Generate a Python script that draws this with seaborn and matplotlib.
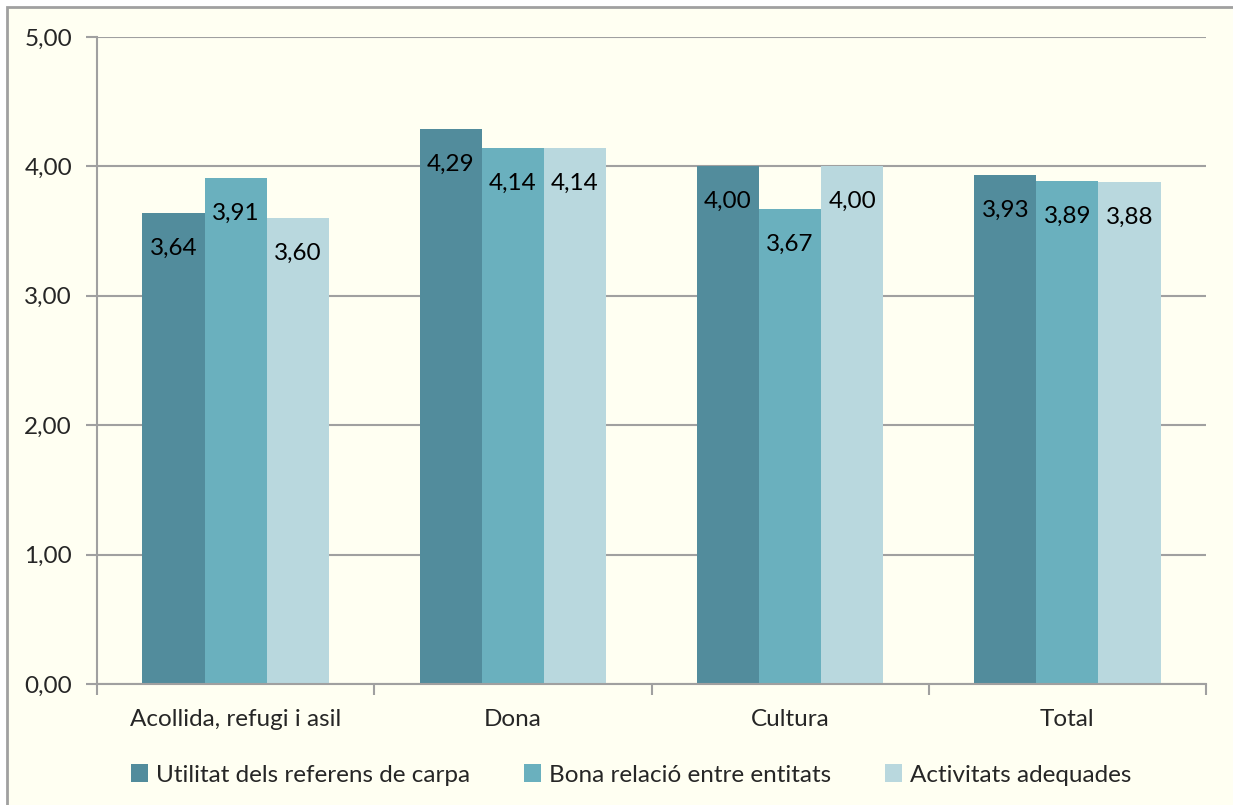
import numpy as np, pandas as pd
from matplotlib import pyplot as plt
from matplotlib.patches import Rectangle
from matplotlib.ticker import FixedLocator
import seaborn as sns

# Data
categories = ["Acollida, refugi i asil", "Dona", "Cultura", "Total"]
series = [
    "Utilitat dels referens de carpa",
    "Bona relació entre entitats",
    "Activitats adequades",
]
utilitat = [3.64, 4.29, 4.00, 3.93]
bona_relacio = [3.91, 4.14, 3.67, 3.89]
activitats = [3.60, 4.14, 4.00, 3.88]
colors = ["#528c9c", "#6ab0be", "#b9d8de"]

df = pd.DataFrame(
    {
        "categoria": categories * 3,
        "serie": np.repeat(series, len(categories)),
        "valor": utilitat + bona_relacio + activitats,
    }
)

sns.set_style("white")
plt.rcParams["font.family"] = ["Lato", "DejaVu Sans"]

cream = "#fffff2"
grey = "#a0a0a0"
fs = 17.5

fig = plt.figure(figsize=(12.33, 8.05), dpi=100, facecolor="white")
fig.patches.append(
    Rectangle((7 / 1233, -0.1), 1.2, (805 - 7) / 805 + 0.1,
              transform=fig.transFigure, facecolor=cream, edgecolor=grey,
              linewidth=2, zorder=-10)
)
ax = fig.add_axes([97 / 1233, 1 - 684 / 805, (1206 - 97) / 1233, (684 - 37) / 805])
ax.set_facecolor(cream)

sns.barplot(
    data=df, x="categoria", y="valor", hue="serie", palette=colors,
    width=0.672, saturation=1, ax=ax, legend=True, linewidth=0,
)

for container in ax.containers:
    labels = [f"{v:.2f}".replace(".", ",") for v in container.datavalues]
    ax.bar_label(container, labels=labels, label_type="edge", padding=-33,
                 fontsize=fs, color="black")

ax.set_ylim(0, 5)
ax.set_xlim(-0.5, len(categories) - 0.5)
ax.set_yticks(np.arange(0, 5.01, 1))
ax.set_yticklabels([f"{v:.2f}".replace(".", ",") for v in np.arange(0, 5.01, 1)])
ax.yaxis.grid(True, color=grey, linewidth=1.5)
ax.set_axisbelow(True)

for side in ["top", "right"]:
    ax.spines[side].set_visible(False)
for side in ["left", "bottom"]:
    ax.spines[side].set_color(grey)
    ax.spines[side].set_linewidth(1.5)

ax.tick_params(axis="y", length=8, width=1.5, color=grey, labelsize=fs, pad=10, left=True)
ax.tick_params(axis="x", length=0, labelsize=fs, pad=18)
ax.xaxis.set_minor_locator(FixedLocator(np.arange(-0.5, len(categories), 1)))
ax.tick_params(axis="x", which="minor", length=8, width=1.5, color=grey, bottom=True)
ax.set_xlabel("")
ax.set_ylabel("")

ax.legend(
    loc="center", bbox_to_anchor=(0.512, (805 - 775) / 805), bbox_transform=fig.transFigure,
    ncol=3, frameon=False, fontsize=fs, handlelength=0.7, handleheight=0.7,
    handletextpad=0.35, columnspacing=2.2, title=None,
)

plt.savefig("out.png", dpi=100, facecolor="white")
